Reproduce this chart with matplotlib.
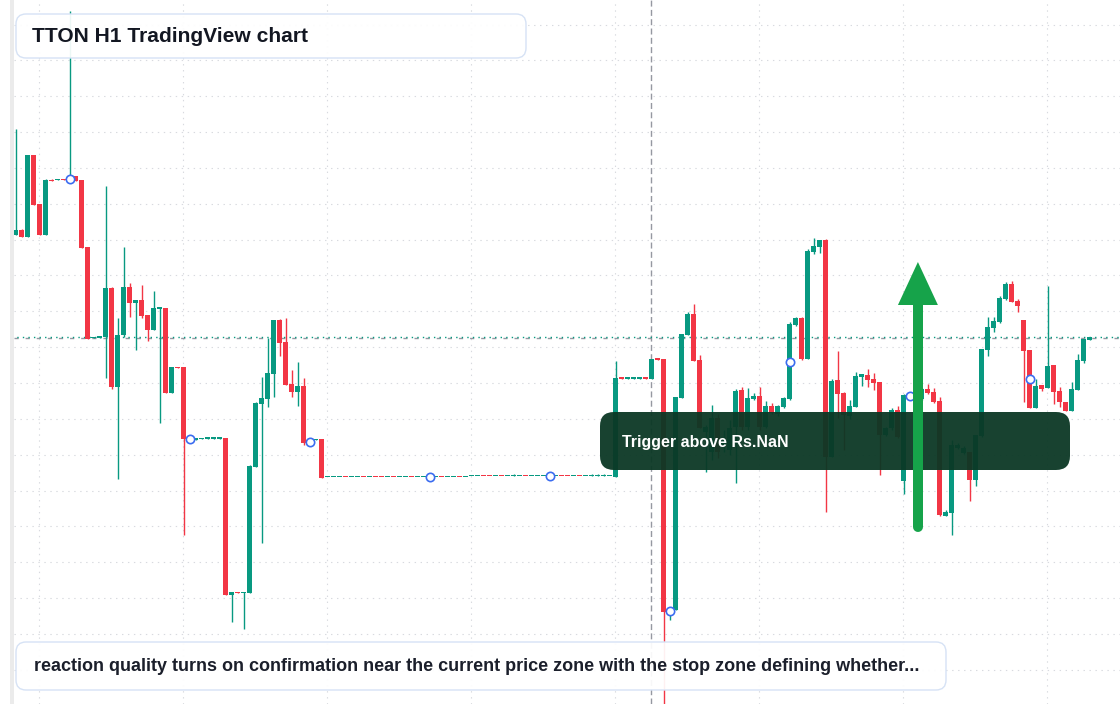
import numpy as np
import matplotlib
matplotlib.use("Agg")
import matplotlib.pyplot as plt
from matplotlib.patches import FancyBboxPatch, Polygon, Rectangle

plt.rcParams["lines.scale_dashes"] = False
plt.rcParams["font.family"] = ["Liberation Sans", "DejaVu Sans"]

# ---------------- data (TTON, H1) ----------------
opens = [
    46.9, 47.4, 46.7, 54.9, 50.0, 46.9, 52.4, 52.4, 52.5, 52.5,
    52.8, 52.4, 45.7, 36.6, 36.65, 36.7, 41.6, 31.7, 36.9, 41.7,
    40.1, 40.4, 38.9, 37.4, 39.55, 39.6, 31.1, 33.7, 33.7, 26.45,
    26.45, 26.5, 26.55, 26.55, 26.55, 26.6, 10.9, 11.2, 11.1, 11.1,
    23.7, 30.0, 30.5, 33.0, 38.4, 36.2, 32.0, 31.2, 31.8, 26.2,
    26.4, 26.5, 22.70, 22.70, 22.70, 22.75, 22.70, 22.70, 22.75, 22.70,
    22.75, 22.75, 22.70, 22.75, 22.70, 22.70, 22.75, 22.70, 22.70, 22.70,
    22.70, 22.75, 22.70, 22.70, 22.75, 22.70, 22.80, 22.80, 22.85, 22.85,
    22.80, 22.85, 22.80, 22.80, 22.80, 22.85, 22.80, 22.80, 22.80, 22.80,
    22.80, 22.85, 22.85, 22.80, 22.85, 22.80, 22.80, 22.80, 22.80, 22.80,
    22.7, 32.6, 32.55, 32.55, 32.55, 32.6, 32.5, 34.5, 34.5, 9.2,
    9.4, 30.6, 36.9, 39.0, 34.4, 27.2, 25.2, 28.6, 25.8, 25.4,
    27.7, 31.4, 27.7, 30.5, 30.8, 27.7, 29.8, 29.0, 29.7, 30.5,
    37.9, 38.6, 34.5, 45.2, 45.7, 46.4, 24.7, 32.4, 31.1, 28.8,
    29.7, 32.7, 32.9, 32.5, 32.2, 26.9, 27.6, 29.4, 22.3, 30.6,
    30.4, 30.5, 31.5, 31.2, 30.3, 18.8, 19.1, 25.6, 25.1, 25.2,
    22.4, 26.8, 35.4, 37.6, 38.2, 40.5, 42.0, 40.3, 38.4, 35.4,
    29.6, 31.9, 31.6, 33.9, 31.3, 30.2, 29.3, 31.4, 34.3, 36.4,
]
highs = [
    57.5, 47.5, 54.9, 54.9, 50.0, 52.5, 52.5, 52.5, 52.5, 69.3,
    52.8, 52.4, 45.7, 36.7, 36.7, 51.8, 41.7, 38.6, 45.7, 42.1,
    40.4, 41.9, 38.9, 41.3, 39.6, 39.6, 33.7, 33.7, 33.7, 26.5,
    26.5, 26.6, 26.6, 26.6, 26.65, 26.6, 11.2, 11.2, 11.2, 23.9,
    30.2, 32.7, 36.6, 38.4, 38.5, 38.6, 33.4, 34.2, 32.6, 26.4,
    26.5, 26.5, 22.75, 22.75, 22.75, 22.75, 22.75, 22.75, 22.75, 22.75,
    22.75, 22.75, 22.75, 22.75, 22.75, 22.75, 22.75, 22.75, 22.75, 22.75,
    22.75, 22.75, 22.75, 22.75, 22.75, 22.75, 22.85, 22.85, 22.85, 22.85,
    22.85, 22.85, 22.85, 23.0, 22.85, 22.85, 22.85, 22.85, 22.85, 22.85,
    22.85, 22.85, 22.85, 22.85, 22.85, 22.85, 23.0, 23.0, 23.0, 22.85,
    34.3, 32.6, 32.6, 32.6, 32.6, 32.6, 34.5, 34.5, 34.5, 9.5,
    30.7, 37.0, 39.2, 40.0, 34.9, 27.9, 29.9, 29.0, 27.4, 28.4,
    31.5, 31.7, 31.6, 31.1, 31.7, 30.3, 30.1, 29.9, 30.7, 38.2,
    38.7, 38.7, 45.5, 46.6, 46.4, 46.5, 32.5, 35.3, 31.2, 30.4,
    33.2, 33.0, 33.5, 33.1, 32.2, 27.7, 29.6, 29.8, 31.0, 31.1,
    31.6, 31.6, 32.0, 31.6, 30.7, 19.4, 26.4, 26.1, 25.8, 25.2,
    26.9, 35.5, 38.7, 38.7, 40.8, 42.2, 42.3, 40.5, 38.4, 35.4,
    32.5, 31.9, 41.8, 33.9, 31.7, 30.2, 32.2, 35.0, 36.5, 36.7,
]
lows = [
    46.9, 46.7, 46.7, 49.9, 46.9, 46.9, 52.3, 52.4, 52.4, 52.5,
    52.3, 45.6, 36.5, 36.6, 36.6, 32.6, 31.5, 22.5, 36.7, 38.7,
    35.4, 38.6, 36.3, 37.4, 28.1, 31.1, 31.1, 33.6, 16.9, 26.4,
    26.4, 26.5, 26.5, 26.5, 26.5, 10.9, 8.2, 11.1, 7.5, 11.1,
    23.7, 16.1, 29.7, 30.7, 34.8, 31.9, 30.7, 29.8, 25.9, 26.2,
    26.4, 22.6, 22.70, 22.70, 22.70, 22.70, 22.70, 22.70, 22.70, 22.70,
    22.70, 22.70, 22.70, 22.70, 22.70, 22.70, 22.70, 22.70, 22.70, 22.70,
    22.70, 22.70, 22.70, 22.70, 22.70, 22.70, 22.80, 22.80, 22.80, 22.80,
    22.80, 22.80, 22.80, 22.80, 22.80, 22.80, 22.80, 22.80, 22.80, 22.80,
    22.80, 22.80, 22.80, 22.80, 22.80, 22.80, 22.80, 22.80, 22.80, 22.80,
    22.7, 32.5, 32.5, 32.5, 32.5, 32.5, 32.5, 34.4, -0.1, 8.4,
    9.4, 30.6, 36.9, 34.3, 27.6, 23.2, 24.4, 24.6, 25.2, 24.9,
    22.1, 27.4, 27.4, 30.4, 27.4, 27.6, 29.0, 28.8, 29.6, 30.4,
    37.8, 34.4, 34.5, 45.0, 45.1, 19.2, 24.7, 28.6, 25.4, 28.5,
    29.7, 31.8, 31.7, 31.4, 22.9, 26.8, 27.4, 26.6, 21.0, 30.5,
    30.2, 30.4, 31.0, 30.1, 18.8, 18.8, 16.9, 25.5, 25.0, 20.3,
    21.8, 26.7, 34.8, 37.2, 38.1, 40.4, 40.2, 39.2, 30.2, 29.6,
    29.6, 31.3, 31.6, 30.0, 29.7, 29.3, 29.3, 31.4, 34.1, 36.4,
]
closes = [
    47.4, 46.7, 54.9, 49.9, 46.9, 52.4, 52.3, 52.5, 52.4, 52.6,
    52.3, 45.6, 36.5, 36.65, 36.7, 41.6, 31.7, 36.9, 41.7, 40.1,
    40.4, 38.8, 37.4, 39.6, 39.6, 31.1, 33.7, 33.6, 26.5, 26.5,
    26.5, 26.55, 26.6, 26.6, 26.6, 10.9, 11.2, 11.1, 11.2, 23.8,
    30.1, 30.6, 33.1, 38.4, 36.1, 31.9, 31.2, 31.8, 26.1, 26.3,
    26.45, 22.6, 22.75, 22.75, 22.75, 22.70, 22.75, 22.75, 22.70, 22.75,
    22.70, 22.70, 22.75, 22.70, 22.75, 22.75, 22.70, 22.75, 22.75, 22.75,
    22.75, 22.70, 22.75, 22.75, 22.70, 22.75, 22.85, 22.85, 22.80, 22.80,
    22.85, 22.80, 22.85, 22.85, 22.85, 22.80, 22.85, 22.85, 22.85, 22.85,
    22.85, 22.80, 22.80, 22.85, 22.80, 22.85, 22.85, 22.85, 22.85, 22.85,
    32.6, 32.55, 32.6, 32.6, 32.6, 32.55, 34.5, 34.45, 9.2, 9.4,
    30.7, 37.0, 39.0, 34.3, 27.6, 27.7, 28.6, 25.2, 26.4, 27.6,
    31.3, 27.7, 30.6, 30.8, 27.7, 29.8, 29.1, 29.8, 30.6, 38.0,
    38.6, 34.5, 45.3, 45.8, 46.4, 24.7, 32.3, 31.0, 28.9, 29.8,
    32.8, 33.0, 32.4, 32.1, 26.9, 27.6, 29.4, 26.7, 30.9, 31.0,
    31.4, 31.5, 31.1, 30.2, 18.9, 19.2, 25.9, 25.9, 25.6, 22.4,
    26.9, 35.5, 37.7, 38.3, 40.6, 42.0, 40.2, 39.8, 35.3, 29.6,
    31.8, 31.5, 33.8, 31.2, 30.2, 29.3, 31.5, 34.4, 36.5, 36.7,
]
marker_idx = [9, 29, 49, 69, 89, 109, 129, 149, 169]
crosshair_idx = 106
arrow_idx = 150.4
arrow_from = 17.7
arrow_to = 44.2
title_text = "TTON H1 TradingView chart"
note_text = ("reaction quality turns on confirmation near the current price zone "
             "with the stop zone defining whether...")
trigger_text = "Trigger above Rs.NaN"

# ---------------- figure ----------------
W, H, DPI = 1120, 704, 100
fig = plt.figure(figsize=(W / DPI, H / DPI), dpi=DPI)
fig.patch.set_facecolor("white")
ax = fig.add_axes([14 / W, 0, 1 - 14 / W, 1])
ax.set_facecolor("white")
for s in ax.spines.values():
    s.set_visible(False)
ax.set_xticks([])
ax.set_yticks([])

n = len(opens)
idx = np.arange(n)
o = np.array(opens); h = np.array(highs); l = np.array(lows); c = np.array(closes)
ax.set_xlim(-0.25, 184.08)
ax.set_ylim(0, 70.4)

UP, DOWN = "#089981", "#f23645"
grid_c = "#d8dadf"
for gy in 3.42 + 3.585 * np.arange(19):
    ax.axhline(gy, color=grid_c, lw=0.8, ls=(0, (1.0, 3.3)), zorder=0)
for gx in range(4, n, 24):
    ax.axvline(gx - 0.03, color=grid_c, lw=0.8, ls=(0, (1.0, 3.3)), zorder=0)

# crosshair
ax.axvline(crosshair_idx - 0.05, color="#9598a1", lw=1.0, ls=(0, (4.3, 2.4)), zorder=1)
# last price line
last = closes[-1]
ax.axhline(last - 0.08, color="#9598a1", lw=1.0, ls=(0, (3.0, 5.0)), zorder=1)
ax.axhline(last + 0.02, color=UP, lw=1.0, ls=(2, (1.0, 3.0)), zorder=1)

up = c >= o
cols = np.where(up, UP, DOWN)
ax.vlines(idx, l, h, colors=cols, lw=1.0, zorder=2)
bottoms = np.minimum(o, c)
heights = np.maximum(np.abs(c - o), 0.13)
ax.bar(idx, heights, bottom=bottoms, width=0.78, color=cols, lw=0, zorder=3)

mi = np.array(marker_idx)
ax.plot(mi, (o[mi] + c[mi]) / 2, ls="none", marker="o", ms=6.0, mfc="white",
        mec="#3b6cf0", mew=1.2, zorder=4)

# ---------------- overlays (pixel-based, via inches) ----------------
T = fig.dpi_scale_trans
def px(x, y):
    return x / DPI, (H - y) / DPI

fig.patches.append(Rectangle((0.10, 0), 0.04, H / DPI, transform=T,
                             fc="#ebebeb", ec="none", zorder=0))

def box(x0, y0, x1, y1, fc, ec, r, lw=1.0):
    bx, by = px(x0, y1)
    p = FancyBboxPatch((bx, by), (x1 - x0) / DPI, (y1 - y0) / DPI,
                       boxstyle=f"round,pad=0,rounding_size={r / DPI}",
                       transform=T, fc=fc, ec=ec, lw=lw, zorder=5)
    fig.patches.append(p)

box(16, 14, 526, 58, (1, 1, 1, 0.93), "#d6e2f5", 10)
fig.text(*px(32, 36.5), title_text, transform=T, fontsize=15.1, fontweight="bold",
         color="#131722", va="center", ha="left", zorder=6)

box(16, 642, 946, 690, (1, 1, 1, 0.93), "#d6e2f5", 10)
fig.text(*px(34, 666.5), note_text, transform=T, fontsize=13.0, fontweight="bold",
         color="#1b1f2b", va="center", ha="left", zorder=6)

box(600, 412, 1070, 470, (0.043, 0.22, 0.145, 0.95), "none", 14, lw=0)
fig.text(*px(622, 442), trigger_text, transform=T, fontsize=11.5, fontweight="bold",
         color="white", va="center", ha="left", zorder=6)

# arrow on an overlay axes so it sits above the trigger box
head_base = 39.9
ov = fig.add_axes(ax.get_position(), frameon=False, zorder=10)
ov.set_xlim(ax.get_xlim()); ov.set_ylim(ax.get_ylim())
ov.set_xticks([]); ov.set_yticks([])
ov.plot([arrow_idx, arrow_idx], [arrow_from, head_base], color="#16a34a", lw=7.2,
        solid_capstyle="round")
ov.add_patch(Polygon([(arrow_idx - 3.33, head_base), (arrow_idx + 3.33, head_base),
                      (arrow_idx, arrow_to)], closed=True, fc="#16a34a", ec="none"))

fig.savefig("out.png", dpi=DPI)
